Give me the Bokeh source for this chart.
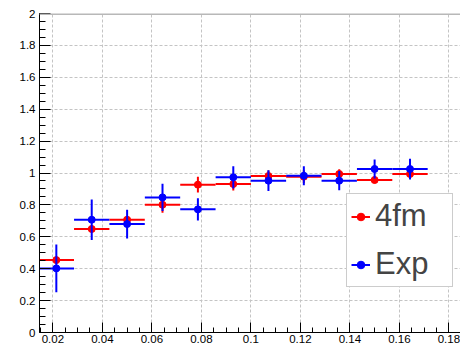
from bokeh.plotting import figure
from bokeh.models import (Range1d, SingleIntervalTicker, CustomJSTickFormatter,
                          Legend, LegendItem, Span, ColumnDataSource)
from bokeh.embed import file_html
from bokeh.resources import INLINE

# ---- data ----
x_centers = [0.0214, 0.0357, 0.0500, 0.0643, 0.0786, 0.0929,
             0.1071, 0.1214, 0.1357, 0.1500, 0.1643]
x_halfwidth = [0.00714] * 11

y_4fm = [0.454, 0.649, 0.707, 0.801, 0.927, 0.931, 0.981, 0.977, 0.994, 0.956, 0.994]
err_4fm = [0.02, 0.02, 0.02, 0.05, 0.05, 0.04, 0.035, 0.04, 0.03, 0.02, 0.03]

y_exp = [0.402, 0.707, 0.680, 0.847, 0.772, 0.973, 0.952, 0.983, 0.952, 1.025, 1.025]
err_exp = [0.149, 0.127, 0.090, 0.085, 0.070, 0.070, 0.065, 0.060, 0.060, 0.060, 0.065]

series_names = ["4fm", "Exp"]
series_colors = ["#ff0000", "#0000ff"]

x_ticks_interval = 0.02
y_ticks_interval = 0.2

FONT = "Liberation Sans"

p = figure(width=460, height=347, output_backend="svg", toolbar_location=None,
           x_range=Range1d(0.0146, 0.1847), y_range=Range1d(0, 2),
           min_border_left=39, min_border_right=0, min_border_top=13,
           min_border_bottom=15)
p.outline_line_color = None
p.background_fill_color = "white"
p.border_fill_color = "white"

xt = SingleIntervalTicker(interval=x_ticks_interval, num_minor_ticks=4)
yt = SingleIntervalTicker(interval=y_ticks_interval, num_minor_ticks=4)
p.xaxis.ticker = xt
p.yaxis.ticker = yt
p.xgrid.ticker = xt
p.ygrid.ticker = yt

fmt = CustomJSTickFormatter(code="return parseFloat(tick.toFixed(4)).toString();")
for ax in (p.xaxis[0], p.yaxis[0]):
    ax.formatter = fmt
    ax.axis_label = None
    ax.axis_label_standoff = 0
    ax.major_label_text_font = FONT
    ax.major_label_text_font_size = "11.5px"
    ax.major_label_text_color = "black"
    ax.axis_line_color = "black"
    ax.major_tick_line_color = "black"
    ax.minor_tick_line_color = "black"
    ax.major_tick_out = 0
    ax.minor_tick_out = 0

p.xaxis.major_tick_in = 10
p.xaxis.minor_tick_in = 5
p.xaxis.major_label_standoff = 2
p.yaxis.major_tick_in = 11
p.yaxis.minor_tick_in = 6
p.yaxis.major_label_standoff = 4

for g in (p.xgrid[0], p.ygrid[0]):
    g.grid_line_color = "#c4c4c4"
    g.grid_line_dash = "3 2"
    g.grid_line_width = 1

p.add_layout(Span(location=2, dimension="width", line_color="#b8b8b8", line_width=3))

items = []
for name, color, ys, es in zip(series_names, series_colors,
                               [y_4fm, y_exp], [err_4fm, err_exp]):
    src = ColumnDataSource(dict(
        x=x_centers, y=ys,
        left=[x - h for x, h in zip(x_centers, x_halfwidth)],
        right=[x + h for x, h in zip(x_centers, x_halfwidth)],
        low=[y - e for y, e in zip(ys, es)],
        high=[y + e for y, e in zip(ys, es)],
    ))
    hs = p.segment(x0="left", x1="right", y0="y", y1="y", source=src,
                   line_color=color, line_width=2)
    p.segment(x0="x", x1="x", y0="low", y1="high", source=src,
              line_color=color, line_width=2)
    sc = p.scatter(x="x", y="y", source=src, size=7, marker="circle",
                   fill_color=color, line_color=color)
    items.append(LegendItem(label=name, renderers=[hs, sc]))

legend = Legend(items=items, location=(307, 45), margin=0, padding=4,
                glyph_width=19, glyph_height=33, label_height=33,
                label_width=73, spacing=12, label_standoff=5,
                label_text_font=FONT, label_text_font_size="31px",
                border_line_color="#999999", border_line_width=1,
                background_fill_color="white", background_fill_alpha=1)
p.add_layout(legend)

open("out.html", "w").write(file_html(p, INLINE))
